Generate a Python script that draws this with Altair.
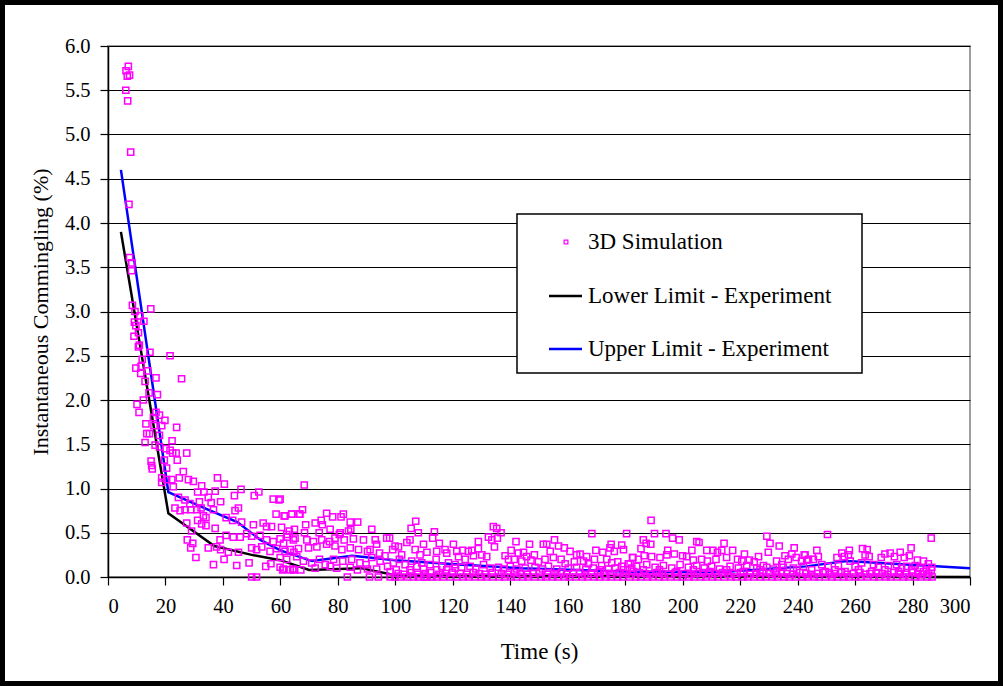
import altair as alt
import pandas as pd

# ---------------- data ----------------
X_TICKS = [0, 20, 40, 60, 80, 100, 120, 140, 160, 180, 200, 220, 240, 260, 280, 300]
Y_TICKS = [0.0, 0.5, 1.0, 1.5, 2.0, 2.5, 3.0, 3.5, 4.0, 4.5, 5.0, 5.5, 6.0]

LOWER_T = [4.5, 21, 37, 50, 60, 70, 88, 100, 150, 300]
LOWER_Y = [3.90, 0.72, 0.35, 0.25, 0.19, 0.08, 0.10, 0.02, 0.01, 0.0]

UPPER_T = [4.5, 21, 32, 45, 53, 60, 71, 85, 100, 122, 144, 182, 215, 243, 257, 300]
UPPER_Y = [4.60, 0.96, 0.80, 0.62, 0.42, 0.30, 0.18, 0.24, 0.19, 0.14, 0.10, 0.06, 0.06, 0.12, 0.18, 0.10]

# 3D simulation, t < 67 s
SIM_T_A = [7.07, 6.27, 7.5, 6.7, 6.2, 6.85, 7.9, 7.3, 7.5, 8.3, 8.2,
           8.5, 14.9, 9.4, 11.1, 12.5, 9.2, 9.7, 10.6, 9.05, 10.9, 10.6, 14.6, 21.6, 11.9, 9.7, 11.5, 11.4, 13.8,
           12.9, 16.7, 25.6, 14.3, 17.2, 12.3, 10.1, 10.8, 16.7, 17.9, 15.8, 19.8, 13.2, 16.0, 18.7, 23.9, 13.5,
           14.4, 17.9, 12.9, 16.4, 22.3, 17.9, 20.2, 21.6, 23.7, 27.4, 22.5, 24.1, 15.0, 15.2, 15.4, 19.6, 20.4,
           26.2, 24.8, 18.7, 20.4, 22.2, 28.0, 29.7, 32.6, 38.1, 40.5, 46.3, 18.7, 22.7, 31.2, 33.4, 37.3, 44.0,
           50.9, 52.5, 57.5, 59.5, 24.5, 26.8, 28.5, 31.8, 34.9, 35.9, 39.2, 23.3, 25.1, 26.8, 28.8, 30.9, 32.4,
           36.7, 44.2, 45.4, 58.5, 61.6, 64.0, 66.8, 33.2, 34.1, 31.2, 32.6, 34.1, 37.3, 41.1, 43.4, 46.5, 50.6,
           54.0, 55.2, 56.9, 60.4, 27.4, 29.1, 39.0, 41.1, 43.6, 46.0, 48.3, 50.0, 52.9, 55.2, 57.5, 59.9, 62.4,
           64.5, 27.6, 29.5, 28.8, 34.9, 37.8, 39.2, 41.9, 45.4, 50.0, 51.7, 53.5, 56.4, 58.7, 61.6, 64.7, 30.6,
           36.7, 40.4, 44.8, 49.1, 54.9, 56.7, 59.9, 60.8, 63.4, 64.7, 50.0, 51.7]
SIM_Y_A = [5.77, 5.72, 5.67, 5.66, 5.50, 5.38, 4.80, 4.21, 3.61, 3.55, 3.46,
           3.07, 3.03, 3.00, 2.95, 2.89, 2.88, 2.84, 2.76, 2.72, 2.62, 2.60, 2.54, 2.50, 2.46, 2.36, 2.38, 2.30, 2.33,
           2.21, 2.25, 2.24, 2.08, 2.06, 2.00, 1.95, 1.86, 1.86, 1.83, 1.80, 1.77, 1.73, 1.71, 1.71, 1.69, 1.62,
           1.62, 1.60, 1.52, 1.49, 1.54, 1.47, 1.45, 1.43, 1.40, 1.40, 1.40, 1.32, 1.31, 1.26, 1.22, 1.32, 1.23,
           1.19, 1.12, 1.12, 1.10, 1.10, 1.10, 1.08, 1.03, 1.12, 1.05, 0.99, 1.07, 1.02, 0.96, 0.96, 0.97, 0.92,
           0.92, 0.96, 0.88, 0.87, 0.90, 0.87, 0.83, 0.85, 0.90, 0.84, 0.85, 0.78, 0.75, 0.76, 0.76, 0.76, 0.78,
           0.76, 0.75, 0.78, 0.71, 0.69, 0.71, 0.71, 0.69, 0.67, 0.64, 0.60, 0.58, 0.55, 0.67, 0.64, 0.62, 0.59,
           0.61, 0.57, 0.57, 0.56, 0.61, 0.52, 0.42, 0.47, 0.45, 0.45, 0.49, 0.46, 0.47, 0.42, 0.40, 0.43, 0.45,
           0.42, 0.42, 0.38, 0.33, 0.33, 0.34, 0.31, 0.28, 0.28, 0.33, 0.31, 0.34, 0.29, 0.32, 0.29, 0.28, 0.22,
           0.14, 0.20, 0.13, 0.16, 0.12, 0.15, 0.11, 0.08, 0.08, 0.08, 0.00, 0.00]

# 3D simulation, 60-122 s
SIM_T_B = [68.3, 59.9, 61.3, 63.9, 66.6, 67.7, 76.1, 78.2, 81.1, 81.9, 74.2, 72.1, 68.8, 84.3, 86.9, 64.9, 63.1,
           68.4, 74.6, 77.3, 84.5, 91.8, 107.1, 105.5, 108.0, 113.6, 73.5, 80.8, 83.7,
           62.2, 65.1, 69.2, 71.5, 74.4, 77.1, 79.0, 80.5, 82.2, 85.4, 88.9, 93.0, 93.5, 97.0, 98.0, 99.9, 104.0,
           105.1, 109.8, 113.0, 115.3, 117.3, 120.2, 61.1, 63.4, 66.3, 69.8, 72.7, 76.1, 79.0, 81.4, 84.3, 87.2,
           90.3, 91.2, 94.5, 96.4, 99.1, 101.1, 102.2, 106.9, 108.6, 111.0, 114.4, 117.9, 121.4,
           59.9, 62.2, 65.7, 68.0, 70.9, 73.6, 75.6, 78.5, 81.7, 84.8, 87.7, 89.8, 91.8, 94.7, 97.3, 99.3, 101.4,
           103.4, 105.7, 107.5, 109.2, 112.1, 114.2, 116.2, 118.5, 120.8, 61.1, 64.3, 67.1, 72.1, 77.3, 79.6,
           84.3, 86.8, 90.3, 93.5, 98.2, 100.3, 105.1, 109.8, 114.4, 117.9]
SIM_Y_B = [1.04, 0.88, 0.69, 0.71, 0.71, 0.76, 0.72, 0.68, 0.68, 0.71, 0.64, 0.61, 0.59, 0.62, 0.62, 0.54, 0.52,
           0.50, 0.59, 0.54, 0.54, 0.54, 0.63, 0.55, 0.50, 0.51, 0.50, 0.50, 0.52,
           0.48, 0.44, 0.42, 0.40, 0.42, 0.40, 0.44, 0.48, 0.42, 0.43, 0.42, 0.42, 0.37, 0.44, 0.44, 0.35, 0.39,
           0.42, 0.37, 0.44, 0.38, 0.31, 0.37, 0.38, 0.31, 0.32, 0.33, 0.34, 0.37, 0.35, 0.31, 0.33, 0.31,
           0.29, 0.31, 0.27, 0.24, 0.31, 0.34, 0.25, 0.31, 0.25, 0.28, 0.29, 0.27, 0.29,
           0.22, 0.20, 0.23, 0.18, 0.16, 0.20, 0.14, 0.20, 0.18, 0.20, 0.16, 0.14, 0.22, 0.18, 0.12, 0.16, 0.20,
           0.14, 0.18, 0.12, 0.16, 0.14, 0.20, 0.12, 0.16, 0.10, 0.09, 0.09, 0.08, 0.10, 0.12, 0.10,
           0.11, 0.08, 0.09, 0.09, 0.06, 0.08, 0.08, 0.09, 0.08, 0.08]

# 3D simulation, 120-183 s
SIM_T_C = [134.1, 135.3, 136.8, 132.4, 133.6, 135.5, 128.9, 142.0, 146.7, 151.5, 152.7, 155.4, 156.8, 158.8,
           168.4, 180.5, 175.1, 178.8, 123.4, 125.4, 126.6, 128.9, 134.5, 140.3, 142.8, 144.6, 148.4, 153.9,
           160.8, 163.1, 164.3, 166.6, 169.8, 172.2, 174.7, 176.2, 179.4, 182.6, 122.0, 124.3, 127.2, 130.1,
           131.8, 138.2, 139.4, 141.4, 144.0, 145.7, 147.2, 149.8, 152.1, 155.0, 157.7, 159.1, 162.3, 165.5,
           167.2, 169.3, 171.8, 173.6, 175.3, 177.4, 178.8, 181.1, 120.8, 123.1, 126.0, 128.0, 130.7, 133.0,
           135.9, 137.6, 140.0, 142.3, 145.2, 148.6, 151.2, 153.3, 156.2, 160.2, 163.1, 166.3, 168.9, 171.3,
           174.2, 176.5, 179.4, 182.3]
SIM_Y_C = [0.57, 0.55, 0.50, 0.45, 0.42, 0.44, 0.40, 0.40, 0.37, 0.37, 0.37, 0.42, 0.35, 0.33,
           0.49, 0.49, 0.37, 0.36, 0.30, 0.29, 0.30, 0.32, 0.34, 0.30, 0.27, 0.28, 0.25, 0.29,
           0.29, 0.25, 0.26, 0.23, 0.30, 0.28, 0.33, 0.29, 0.31, 0.22, 0.23, 0.20, 0.24, 0.25,
           0.23, 0.24, 0.20, 0.20, 0.18, 0.23, 0.19, 0.17, 0.20, 0.22, 0.20, 0.15, 0.17, 0.18,
           0.15, 0.20, 0.13, 0.20, 0.16, 0.17, 0.12, 0.15, 0.14, 0.11, 0.12, 0.09, 0.14, 0.10,
           0.11, 0.09, 0.12, 0.09, 0.10, 0.11, 0.09, 0.12, 0.09, 0.10, 0.11, 0.09, 0.10, 0.08,
           0.09, 0.10, 0.08, 0.10]

# 3D simulation, 181-244 s
SIM_T_D = [189.0, 190.2, 194.2, 196.5, 198.8, 186.3, 187.3, 188.9, 185.5, 204.9, 205.7, 214.4, 229.3, 230.4,
           233.6, 229.8, 238.8, 242.3, 194.8, 203.2, 208.4, 210.5, 212.1, 213.6, 217.4, 221.5, 226.4, 235.6,
           238.0, 182.6, 184.6, 186.6, 189.2, 192.1, 194.5, 197.1, 200.0, 201.4, 203.7, 206.6, 208.6, 211.6,
           215.3, 219.1, 220.6, 223.2, 224.9, 228.1, 232.7, 234.5, 236.8, 239.5, 241.4, 243.2, 181.7, 184.0,
           187.5, 190.4, 193.3, 196.2, 199.1, 202.0, 204.9, 207.5, 210.1, 212.8, 216.5, 219.4, 222.3, 225.8,
           229.3, 231.6, 235.0, 238.5, 242.0, 182.9, 186.3, 191.9, 197.9, 203.7, 209.5, 215.3, 221.1, 226.9,
           232.7, 239.7]
SIM_Y_D = [0.64, 0.49, 0.49, 0.44, 0.42, 0.42, 0.38, 0.37, 0.32, 0.40, 0.39, 0.38, 0.46, 0.38,
           0.35, 0.28, 0.33, 0.25, 0.30, 0.30, 0.30, 0.30, 0.28, 0.30, 0.30, 0.26, 0.23, 0.24,
           0.26, 0.22, 0.20, 0.24, 0.23, 0.22, 0.25, 0.26, 0.24, 0.23, 0.19, 0.20, 0.18, 0.20,
           0.22, 0.20, 0.18, 0.19, 0.17, 0.13, 0.18, 0.14, 0.20, 0.22, 0.18, 0.19, 0.15, 0.12,
           0.14, 0.11, 0.13, 0.10, 0.14, 0.11, 0.13, 0.10, 0.12, 0.09, 0.12, 0.10, 0.13, 0.10,
           0.11, 0.09, 0.11, 0.10, 0.12, 0.06, 0.08, 0.08, 0.06, 0.08, 0.06, 0.08, 0.06, 0.08,
           0.06, 0.08]

# 3D simulation, 242-287 s
SIM_T_E = [250.4, 286.5, 246.7, 247.2, 245.5, 255.4, 258.0, 257.7, 262.6, 264.2, 263.5, 264.9, 253.7, 256.3,
           269.1, 270.4, 272.2, 273.7, 275.7, 277.1, 279.5, 278.9, 281.7, 283.8, 285.5, 242.6, 243.8, 248.4,
           250.7, 254.2, 258.3, 260.0, 262.3, 266.4, 268.1, 271.6, 274.5, 276.2, 278.0, 280.9, 282.6, 284.9,
           286.7, 244.9, 249.6, 253.0, 256.5, 261.2, 265.8, 270.4, 275.1, 279.7, 283.8, 286.5]
SIM_Y_E = [0.48, 0.44, 0.30, 0.23, 0.20, 0.27, 0.30, 0.25, 0.32, 0.31, 0.25, 0.23, 0.22, 0.23,
           0.22, 0.26, 0.27, 0.23, 0.28, 0.22, 0.33, 0.24, 0.19, 0.18, 0.15, 0.25, 0.20, 0.14,
           0.12, 0.13, 0.18, 0.12, 0.16, 0.14, 0.11, 0.13, 0.14, 0.10, 0.12, 0.13, 0.10, 0.08,
           0.11, 0.08, 0.06, 0.08, 0.06, 0.08, 0.06, 0.08, 0.06, 0.08, 0.06, 0.08]

# 3D simulation, dense band just above 0.0 (100-287 s)
SIM_T_LOW = [101.0, 103.1, 105.6, 107.8, 110.4, 112.3, 115.2, 117.5, 119.8, 122.6, 124.9, 127.1, 129.3, 131.2,
             133.7, 136.9, 139.1, 141.6, 143.5, 146.0, 147.9, 150.2, 152.9, 155.6, 157.8, 159.6, 161.9, 164.2,
             166.0, 168.2, 170.5, 172.6, 174.9, 177.9, 180.3, 182.1, 184.9, 186.9, 188.6, 191.1, 192.8, 195.2,
             197.4, 200.6, 202.9, 205.2, 207.0, 209.0, 211.4, 213.9, 215.8, 218.0, 220.2, 223.6, 225.5, 227.8,
             230.4, 232.3, 234.4, 236.3, 238.2, 240.8, 242.9, 244.6, 247.0, 248.8, 251.2, 252.7, 255.3, 257.2,
             259.4, 261.7, 263.6, 265.2, 267.5, 269.4, 271.3, 273.5, 275.8, 277.6, 280.1, 281.9, 283.4, 285.6]
SIM_Y_LOW = [0.04, 0.03, 0.05, 0.03, 0.04, 0.05, 0.03, 0.04, 0.05, 0.04, 0.03, 0.05, 0.04, 0.03,
             0.05, 0.04, 0.03, 0.05, 0.04, 0.03, 0.04, 0.05, 0.03, 0.04, 0.05, 0.03, 0.04, 0.05,
             0.03, 0.04, 0.05, 0.03, 0.04, 0.05, 0.04, 0.03, 0.05, 0.04, 0.03, 0.05, 0.04, 0.03,
             0.05, 0.04, 0.03, 0.04, 0.05, 0.03, 0.04, 0.05, 0.03, 0.04, 0.05, 0.03, 0.04, 0.05,
             0.04, 0.03, 0.05, 0.04, 0.03, 0.05, 0.04, 0.03, 0.04, 0.05, 0.03, 0.04, 0.05, 0.03,
             0.04, 0.05, 0.03, 0.04, 0.05, 0.04, 0.03, 0.05, 0.04, 0.03, 0.05, 0.04, 0.03, 0.04]

# 3D simulation, points lying on 0.0
SIM_T_ZERO = [83.3, 91.0, 94.1, 98.2, 99.9, 101.7, 104.2, 106.3, 108.1, 110.0, 111.0, 112.7, 114.4, 116.7,
              119.1, 121.4, 123.6, 125.5, 127.8, 129.9, 131.7, 133.9, 136.2, 138.0, 140.3, 142.1, 144.4,
              146.2, 148.5, 150.7, 152.4, 154.8, 156.5, 158.9, 160.6, 162.8, 165.1, 166.9, 169.2, 171.0,
              173.3, 175.1, 177.4, 179.2, 181.5, 183.7, 185.4, 187.8, 189.5, 191.9, 193.6, 195.8, 198.1,
              199.9, 202.2, 204.0, 206.3, 208.1, 210.4, 212.2, 214.5, 216.8, 218.5, 220.9, 222.6, 224.8,
              227.1, 228.9, 231.2, 233.0, 235.3, 237.1, 239.4, 241.7, 243.4, 245.8, 247.5, 249.7, 252.0,
              253.8, 256.1, 257.9, 260.2, 262.0, 264.3, 266.6, 268.3, 270.7, 272.4, 274.6, 276.9, 278.7,
              281.0, 282.8, 285.1, 286.8]

LEGEND_LABELS = ["3D Simulation", "Lower Limit - Experiment", "Upper Limit - Experiment"]

# ---------------- build tables ----------------
sim_t = SIM_T_A + SIM_T_B + SIM_T_C + SIM_T_D + SIM_T_E + SIM_T_LOW + SIM_T_ZERO
sim_y = SIM_Y_A + SIM_Y_B + SIM_Y_C + SIM_Y_D + SIM_Y_E + SIM_Y_LOW + [0.0] * len(SIM_T_ZERO)
sim = pd.DataFrame({"t": sim_t, "y": sim_y})
lower = pd.DataFrame({"t": LOWER_T, "y": LOWER_Y})
upper = pd.DataFrame({"t": UPPER_T, "y": UPPER_Y})

FONT = "Liberation Serif"
MAGENTA = "#FF00FF"
W, H = 862, 531

xscale = alt.Scale(domain=[0, 300], nice=False, zero=False)
yscale = alt.Scale(domain=[0, 6], nice=False)

xaxis = alt.Axis(values=X_TICKS, format="d", grid=False, title="Time (s)",
                 labelPadding=11, titlePadding=24, titleFontSize=23)
yaxis = alt.Axis(values=Y_TICKS, format=".1f", grid=True, gridColor="black", gridWidth=1,
                 title="Instantaneous Commingling (%)", labelPadding=10, titlePadding=12,
                 titleFontSize=22)

xenc = alt.X("t:Q", scale=xscale, axis=xaxis)
yenc = alt.Y("y:Q", scale=yscale, axis=yaxis)

lower_line = alt.Chart(lower).mark_line(color="black", strokeWidth=2.5).encode(x=xenc, y=yenc)
upper_line = alt.Chart(upper).mark_line(color="#0000FF", strokeWidth=2.5).encode(
    x=alt.X("t:Q", scale=xscale), y=alt.Y("y:Q", scale=yscale))
points = alt.Chart(sim).mark_point(shape="square", filled=False, color=MAGENTA, size=38,
                                   strokeWidth=1.5, opacity=1).encode(
    x=alt.X("t:Q", scale=xscale), y=alt.Y("y:Q", scale=yscale))

one = alt.Data(values=[{"k": 1}])

# legend (drawn manually, in plot pixel coordinates)
leg_box = alt.Chart(one).mark_rect(fill="white", stroke="black", strokeWidth=1.5).encode(
    x=alt.value(409), x2=alt.value(754), y=alt.value(168), y2=alt.value(327))
leg_sq = alt.Chart(one).mark_point(shape="square", filled=False, color=MAGENTA, size=14,
                                   strokeWidth=1.2, opacity=1).encode(
    x=alt.value(458), y=alt.value(196))
leg_l1 = alt.Chart(one).mark_rule(color="black", strokeWidth=2.5).encode(
    x=alt.value(441), x2=alt.value(474), y=alt.value(250))
leg_l2 = alt.Chart(one).mark_rule(color="#0000FF", strokeWidth=2.5).encode(
    x=alt.value(441), x2=alt.value(474), y=alt.value(303))
leg_txt = []
for lab, yy in zip(LEGEND_LABELS, [196, 250, 303]):
    leg_txt.append(alt.Chart(one).mark_text(text=lab, font=FONT, fontSize=23, align="left",
                                            baseline="middle", color="black").encode(
        x=alt.value(480), y=alt.value(yy)))

# outer frame of the picture
frame = alt.Chart(one).mark_rect(fill="transparent", stroke="black", strokeWidth=5).encode(
    x=alt.value(-105.5), x2=alt.value(892.5), y=alt.value(-43.5), y2=alt.value(637.5))

chart = alt.layer(lower_line, upper_line, points, leg_box, leg_sq, leg_l1, leg_l2, *leg_txt, frame).properties(
    width=W, height=H,
    autosize=alt.AutoSizeParams(type="none"),
    padding={"left": 108, "top": 46, "right": 33, "bottom": 109},
    background="white",
).configure_view(
    stroke="#808080", strokeWidth=1.5
).configure_axis(
    labelFont=FONT, labelFontSize=20.5, labelColor="black",
    titleFont=FONT, titleColor="black", titleFontWeight="normal",
    tickColor="black", tickSize=8, tickWidth=1.2,
    domainColor="black", domainWidth=1.5,
)

chart.save("out.html", embed_options={"renderer": "svg", "actions": False})
